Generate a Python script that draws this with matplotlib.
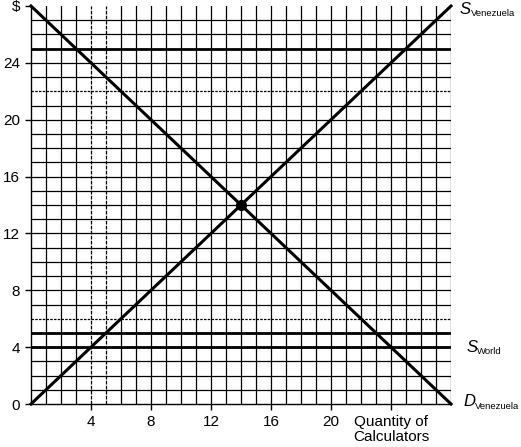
import matplotlib.pyplot as plt
import numpy as np

plt.rcParams['font.family'] = 'Liberation Sans'

# data
qty = [0, 28]
supply_ven = [0, 28]
demand_ven = [28, 0]
world_price = 4
thick_prices = [25, 5, 4]
equilibrium = (14, 14)
xticks = [4, 8, 12, 16, 20]
yticks = [0, 4, 8, 12, 16, 20, 24]
dashed_x = [4, 5]
dotted_y = [6, 22]

fig = plt.figure(figsize=(5.21, 4.47), dpi=100)
ax = fig.add_axes([31/521, 43/447, 420/521, 398/447])
ax.set_xlim(0, 28)
ax.set_ylim(0, 28)

# graph paper grid
for x in range(1, 29):
    ls = (0, (3, 1)) if x in dashed_x else '-'
    ax.axvline(x, color='black', lw=0.9, ls=ls, zorder=1)
for y in range(1, 28):
    ls = (0, (2, 1)) if y in dotted_y else '-'
    ax.axhline(y, color='black', lw=0.9, ls=ls, zorder=1)

for p in thick_prices:
    ax.axhline(p, color='black', lw=2.0, zorder=2)

ax.plot(qty, supply_ven, color='black', lw=2.2, zorder=3, clip_on=False)
ax.plot(qty, demand_ven, color='black', lw=2.2, zorder=3, clip_on=False)
ax.plot(*equilibrium, 'o', color='black', ms=7, zorder=4)

for s in ['top', 'right']:
    ax.spines[s].set_visible(False)
ax.spines['left'].set_linewidth(1.0)
ax.spines['bottom'].set_linewidth(1.0)

ax.set_xticks(xticks + [24])
ax.set_xticklabels([str(v) for v in xticks] + ['Quantity of\nCalculators'],
                   fontsize=11, va='top', linespacing=1.1)
ax.set_yticks(yticks + [28])
ax.set_yticklabels([str(v) for v in yticks] + ['$'], fontsize=11)
ax.tick_params(axis='both', length=4, width=1, direction='out', pad=4)

# curve labels: italic letter with small subscript
ax.text(28.6, 27.75, 'S', fontsize=12, style='italic', va='center', ha='left', clip_on=False)
ax.text(29.35, 27.45, 'Venezuela', fontsize=6.8, va='center', ha='left', clip_on=False)
ax.text(29.05, world_price, 'S', fontsize=12, style='italic', va='center', ha='left', clip_on=False)
ax.text(29.75, world_price - 0.3, 'World', fontsize=6.8, va='center', ha='left', clip_on=False)
ax.text(28.85, 0.2, 'D', fontsize=12, style='italic', va='center', ha='left', clip_on=False)
ax.text(29.6, -0.15, 'Venezuela', fontsize=6.8, va='center', ha='left', clip_on=False)

plt.savefig('out.png', dpi=100)
